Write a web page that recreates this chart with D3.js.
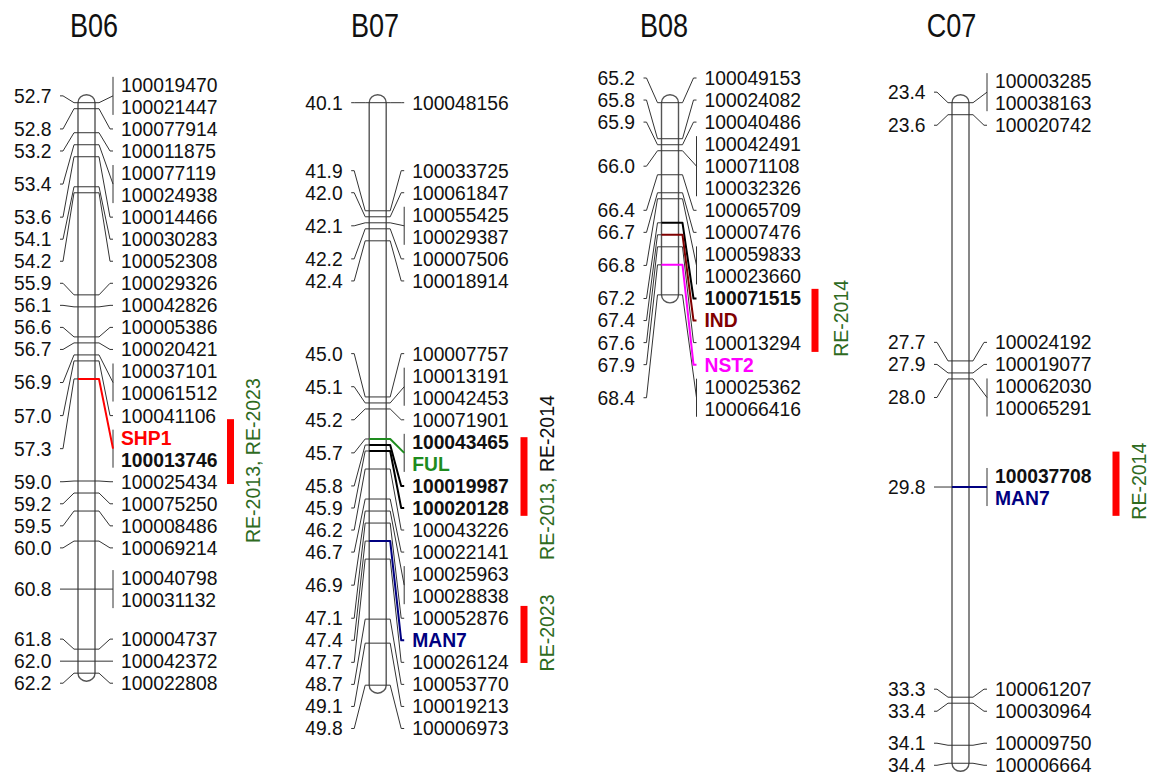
<!DOCTYPE html>
<html>
<head>
<meta charset="utf-8">
<script src="https://cdn.jsdelivr.net/npm/d3@7"></script>
<style>
  body { margin: 0; background: #fff; }
  text { font-family: "Liberation Sans", Arial, sans-serif; }
</style>
</head>
<body>
<svg id="map" width="1151" height="776"></svg>
<script>
// ---- data ----
const chromNames = ["B06", "B07", "B08", "C07"];

const b06Markers = [
  ["100019470", 52.7], ["100021447", 52.7], ["100077914", 52.8], ["100011875", 53.2],
  ["100077119", 53.4], ["100024938", 53.4], ["100014466", 53.6], ["100030283", 54.1],
  ["100052308", 54.2], ["100029326", 55.9], ["100042826", 56.1], ["100005386", 56.6],
  ["100020421", 56.7], ["100037101", 56.9], ["100061512", 56.9], ["100041106", 57.0],
  ["SHP1", 57.3], ["100013746", 57.3], ["100025434", 59.0], ["100075250", 59.2],
  ["100008486", 59.5], ["100069214", 60.0], ["100040798", 60.8], ["100031132", 60.8],
  ["100004737", 61.8], ["100042372", 62.0], ["100022808", 62.2]
];

const b07Markers = [
  ["100048156", 40.1], ["100033725", 41.9], ["100061847", 42.0], ["100055425", 42.1],
  ["100029387", 42.1], ["100007506", 42.2], ["100018914", 42.4], ["100007757", 45.0],
  ["100013191", 45.1], ["100042453", 45.1], ["100071901", 45.2], ["100043465", 45.7],
  ["FUL", 45.7], ["100019987", 45.8], ["100020128", 45.9], ["100043226", 46.2],
  ["100022141", 46.7], ["100025963", 46.9], ["100028838", 46.9], ["100052876", 47.1],
  ["MAN7", 47.4], ["100026124", 47.7], ["100053770", 48.7], ["100019213", 49.1],
  ["100006973", 49.8]
];

const b08Markers = [
  ["100049153", 65.2], ["100024082", 65.8], ["100040486", 65.9], ["100042491", 66.0],
  ["100071108", 66.0], ["100032326", 66.0], ["100065709", 66.4], ["100007476", 66.7],
  ["100059833", 66.8], ["100023660", 66.8], ["100071515", 67.2], ["IND", 67.4],
  ["100013294", 67.6], ["NST2", 67.9], ["100025362", 68.4], ["100066416", 68.4]
];

const c07Markers = [
  ["100003285", 23.4], ["100038163", 23.4], ["100020742", 23.6], ["100024192", 27.7],
  ["100019077", 27.9], ["100062030", 28.0], ["100065291", 28.0], ["100037708", 29.8],
  ["MAN7", 29.8], ["100061207", 33.3], ["100030964", 33.4], ["100009750", 34.1],
  ["100006664", 34.4]
];

const geneNames = ["SHP1", "FUL", "MAN7", "IND", "NST2"];
const geneColors = ["#ff0000", "#1e8c1e", "#000080", "#800000", "#ff00ff"];
const boldMarkers = ["100013746", "100043465", "100019987", "100020128", "100071515", "100037708"];

// QTL intervals, in cM of the chromosome drawn next to them
const qtlChrom = ["B06", "B07", "B07", "B08", "C07"];
const qtlStart = [57.97, 45.67, 48.48, 68.30, 29.21];
const qtlEnd = [59.05, 46.98, 49.43, 69.35, 30.28];
const qtlLabels = [
  [["RE-2013, RE-2023", "green"]],
  [["RE-2013, ", "green"], ["RE-2014", "black"]],
  [["RE-2023", "green"]],
  [["RE-2014", "green"]],
  [["RE-2014", "green"]]
];

// ---- layout ----
const markerSets = {B06: b06Markers, B07: b07Markers, B08: b08Markers, C07: c07Markers};
const layout = {
  B06: {cx: 86.5, titleX: 94, qtlX: 230.5, qtlTextX: 253},
  B07: {cx: 377.7, titleX: 375, qtlX: 524, qtlTextX: 547},
  B08: {cx: 670, titleX: 664, qtlX: 815, qtlTextX: 841},
  C07: {cx: 960.5, titleX: 951.5, qtlX: 1116, qtlTextX: 1139}
};
const qtlTextShift = [9, 1, -1.5, -2, -2.5];

const barTop = 102.7,
    pxPerCM = 60.05,
    halfW = 8.5,
    rowH = 22.05,
    rowMin = 78,
    fontSize = 19.3;

const textGreen = "#2f6b1f";

const svg = d3.select("#map");
const scales = {};

// spread label rows: overlapping rows form clusters centred on their span
function spreadRows(desired) {
    let clusters = desired.map((d, i) => ({first: i, last: i}));

    function place(c) {
        const n = c.last - c.first + 1;
        const center = (desired[c.first] + desired[c.last]) / 2;
        let top = center - (n - 1) * rowH / 2;
        if (top < rowMin) top = rowMin;
        c.top = top;
        c.bottom = top + (n - 1) * rowH;
    }

    clusters.forEach(place);
    let merged = true;
    while (merged) {
        merged = false;
        for (let i = 0; i < clusters.length - 1; i++) {
            const a = clusters[i], b = clusters[i + 1];
            if (b.top < a.bottom + rowH - 0.01) {
                const c = {first: a.first, last: b.last};
                place(c);
                clusters.splice(i, 2, c);
                merged = true;
                break;
            }
        }
    }
    const ys = [];
    clusters.forEach(c => {
        for (let i = c.first; i <= c.last; i++) ys[i] = c.top + (i - c.first) * rowH;
    });
    return ys;
}

function drawChromosome(chr) {
    const markers = markerSets[chr];
    const lay = layout[chr];
    const lo = d3.min(markers, d => d[1]),
        hi = d3.max(markers, d => d[1]);
    const y = d3.scaleLinear().domain([lo, hi]).range([barTop, barTop + (hi - lo) * pxPerCM]);
    scales[chr] = y;

    const g = svg.append("g").attr("class", "chrom " + chr);
    const xL = lay.cx - halfW,
        xR = lay.cx + halfW;

    // title
    g.append("text")
        .attr("transform", `translate(${lay.titleX},37) scale(0.82,1)`)
        .attr("text-anchor", "middle")
        .attr("font-size", 33)
        .attr("fill", "#111")
        .text(chr);

    // groups of markers at the same position
    const groups = d3.groups(markers.map((d, i) => ({name: d[0], pos: d[1], idx: i})), d => d.pos);

    const desired = [];
    groups.forEach(([pos, items]) => {
        const n = items.length;
        items.forEach((it, j) => desired.push(y(pos) + (j - (n - 1) / 2) * rowH));
    });
    const rows = spreadRows(desired);

    // chromosome bar
    g.append("rect")
        .attr("x", xL)
        .attr("y", y(lo) - 8)
        .attr("width", halfW * 2)
        .attr("height", y(hi) - y(lo) + 16)
        .attr("rx", halfW)
        .attr("ry", 8)
        .attr("fill", "#fff")
        .attr("stroke", "#555")
        .attr("stroke-width", 1.4);

    const lineNormal = [], lineSpecial = [];

    groups.forEach(([pos, items]) => {
        const my = y(pos);
        const rowYs = items.map(it => rows[it.idx]);
        const gy = d3.mean(rowYs);
        const gene = items.find(it => geneNames.includes(it.name));
        const bold = items.find(it => boldMarkers.includes(it.name));
        let color = "#333", width = 1;
        if (gene) {
            color = geneColors[geneNames.indexOf(gene.name)];
            width = 2;
        } else if (bold) {
            color = "#000";
            width = 2;
        }

        const rightPts = items.length > 1
            ? [[xR, my], [xR + 4, my], [xR + 18, gy]]
            : [[xR, my], [xR + 4, my], [xR + 15, gy], [xR + 18, gy]];
        const leftPts = [[xL, my], [xL - 4, my], [xL - 15, gy], [xL - 18, gy]];

        // left connector and position label
        g.append("path")
            .attr("d", d3.line()(leftPts))
            .attr("fill", "none")
            .attr("stroke", "#333")
            .attr("stroke-width", 1);
        g.append("text")
            .attr("x", xL - 26.5)
            .attr("y", gy)
            .attr("dy", "0.36em")
            .attr("text-anchor", "end")
            .attr("font-size", fontSize)
            .attr("fill", "#111")
            .text(d3.format(".1f")(pos));

        // line across the bar plus right connector
        const pts = [[xL, my]].concat(rightPts);
        const item = {pts: pts, color: color, width: width};
        if (width > 1) lineSpecial.push(item); else lineNormal.push(item);

        // bracket for shared positions
        if (items.length > 1) {
            g.append("line")
                .attr("x1", xR + 18).attr("x2", xR + 18)
                .attr("y1", rowYs[0] - 8).attr("y2", rowYs[rowYs.length - 1] + 8)
                .attr("stroke", "#333")
                .attr("stroke-width", 1);
        }

        // right labels
        items.forEach(it => {
            const isGene = geneNames.includes(it.name);
            const isBold = boldMarkers.includes(it.name);
            g.append("text")
                .attr("x", xR + 26)
                .attr("y", rows[it.idx])
                .attr("dy", "0.36em")
                .attr("font-size", fontSize)
                .attr("font-weight", isGene || isBold ? "bold" : "normal")
                .attr("fill", isGene ? geneColors[geneNames.indexOf(it.name)] : "#111")
                .text(it.name);
        });
    });

    lineNormal.concat(lineSpecial).forEach(d => {
        g.append("path")
            .attr("d", d3.line()(d.pts))
            .attr("fill", "none")
            .attr("stroke", d.color)
            .attr("stroke-width", d.width)
            .attr("stroke-linejoin", "round");
    });
}

chromNames.forEach(drawChromosome);

// QTL bars and their labels
qtlChrom.forEach((chr, i) => {
    const y = scales[chr];
    const lay = layout[chr];
    const y0 = y(qtlStart[i]), y1 = y(qtlEnd[i]);
    svg.append("rect")
        .attr("x", lay.qtlX - 3.5)
        .attr("y", y0)
        .attr("width", 7)
        .attr("height", y1 - y0)
        .attr("fill", "#ff0000");

    const t = svg.append("text")
        .attr("transform", `translate(${lay.qtlTextX},${(y0 + y1) / 2 + qtlTextShift[i]}) rotate(-90)`)
        .attr("text-anchor", "middle")
        .attr("dy", "0.36em")
        .attr("font-size", 19.5);
    qtlLabels[i].forEach(part => {
        t.append("tspan")
            .attr("fill", part[1] === "green" ? textGreen : "#111")
            .text(part[0]);
    });
});
</script>
</body>
</html>
